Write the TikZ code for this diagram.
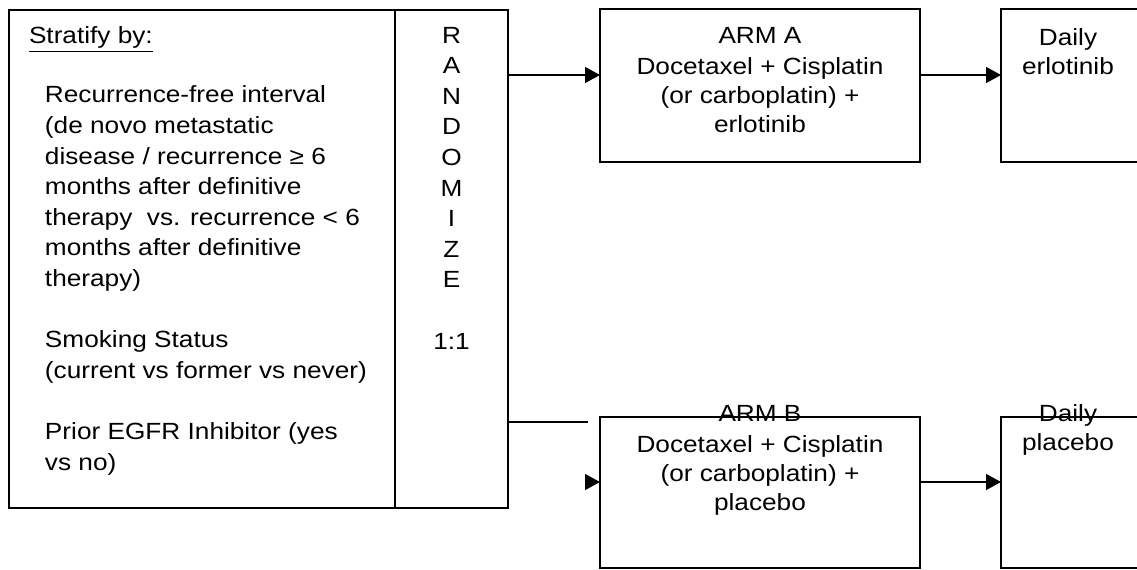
\documentclass[tikz,border=0pt]{standalone}
\usepackage{fontspec}
\setmainfont{Liberation Sans}[FakeStretch=1.12]
\usetikzlibrary{positioning}
\usetikzlibrary{arrows.meta}

\begin{document}
\begin{tikzpicture}[x=0.5pt, y=-0.5pt, outer sep=0pt,
    box/.style = {draw, line width=0.65pt, anchor=north west, inner sep=0pt},
    bigbox/.style = {box, line width=1pt, minimum height=249pt},
    txt/.style = {inner sep=0pt, font=\fontsize{11.7}{15.3}\selectfont},
    armtxt/.style = {txt, anchor=north, align=center, font=\fontsize{11.7}{14.5}\selectfont},
    arr/.style = {-{Triangle[length=7.5pt, width=8pt]}, line width=0.65pt},
    conn/.style = {line width=0.65pt}]
    \useasboundingbox (0,0) rectangle (1137,569);
            % stratification and randomisation
            \node[bigbox, minimum width=193pt] (strat) at (9,10) {};
            \node[bigbox, minimum width=56.5pt] (rand) [right=0pt of strat] {};
            \node[txt, anchor=north west] (stratby) at (29,27) {\underline{Stratify by:}};
            \node[txt, anchor=north west, align=left] (factors) at (45,86) {Recurrence-free interval\\ (de novo metastatic\\ disease / recurrence ≥ 6\\ months after definitive\\ therapy\ \ vs. recurrence < 6\\ months after definitive\\ therapy)\\[15.3pt] Smoking Status\\ (current vs former vs never)\\[15.3pt] Prior EGFR Inhibitor (yes\\ vs no)};
            \node[txt, anchor=north, align=center] (randtxt) at (451.5,27) {R\\ A\\ N\\ D\\ O\\ M\\ I\\ Z\\ E\\[15.3pt] 1:1};
            % arms
            \node[box, minimum width=160pt, minimum height=76.5pt] (arma) at (600,9) {};
            \node[box, minimum width=80pt, minimum height=76.5pt] (dailya) [right=40.5pt of arma.north east, anchor=north west] {};
            \node[box, minimum width=160pt, minimum height=75.5pt] (armb) at (600,417) {};
            \node[box, minimum width=80pt, minimum height=75.5pt] (dailyb) [right=40.5pt of armb.north east, anchor=north west] {};
            \node[armtxt] (armatxt) at (760,27) {ARM A\\[1pt] Docetaxel + Cisplatin\\ (or carboplatin) +\\ erlotinib};
            \node[armtxt] (dailyatxt) at (1068,29) {Daily\\ erlotinib};
            \node[armtxt] (armbtxt) at (760,405) {ARM B\\[1pt] Docetaxel + Cisplatin\\ (or carboplatin) +\\ placebo};
            \node[armtxt] (dailybtxt) at (1068,405) {Daily\\ placebo};
            % connectors
            \coordinate (ra) at (508,75);
            \coordinate (rb) at (588,422);
            \coordinate (rbh) at (585,482);
            \draw[arr] (rand.east |- ra) -- (arma.west |- ra);
            \draw[arr] (arma.east |- ra) -- (dailya.west |- ra);
            \draw[conn] (rand.east |- rb) -- (rb);
            \draw[arr] (rbh) -- (armb.west |- rbh);
            \draw[arr] (armb.east |- rbh) -- (dailyb.west |- rbh);
        \end{tikzpicture}
\end{document}
